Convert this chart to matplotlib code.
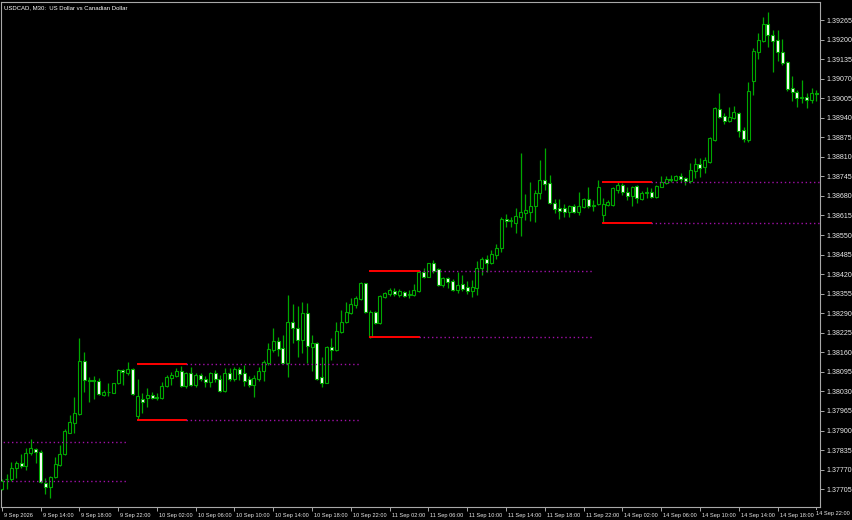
import numpy as np
import matplotlib
matplotlib.use('Agg')
from matplotlib import pyplot as plt
from matplotlib import transforms

plt.rcParams['font.family'] = ['Liberation Sans', 'DejaVu Sans']

title = 'USDCAD, M30:  US Dollar vs Canadian Dollar'

# M30 bars, 9 Sep 10:00 -> 14 Sep 22:00 (weekend skipped)
opens = [1.37706, 1.37738, 1.37738, 1.37774, 1.37793, 1.37782, 1.37825, 1.37839, 1.37830, 1.37727,
         1.37713, 1.37747, 1.37785, 1.37822, 1.37893, 1.37926, 1.37955, 1.38132, 1.38068, 1.38068,
         1.38066, 1.38018, 1.38028, 1.38026, 1.38057, 1.38101, 1.38090, 1.38104, 1.37948, 1.38004,
         1.38009, 1.38017, 1.38011, 1.38009, 1.38048, 1.38076, 1.38081, 1.38098, 1.38048, 1.38090,
         1.38051, 1.38085, 1.38070, 1.38061, 1.38090, 1.38070, 1.38032, 1.38092, 1.38070, 1.38104,
         1.38090, 1.38070, 1.38051, 1.38070, 1.38098, 1.38125, 1.38168, 1.38198, 1.38173, 1.38125,
         1.38262, 1.38242, 1.38201, 1.38292, 1.38179, 1.38190, 1.38077, 1.38059, 1.38179, 1.38168,
         1.38229, 1.38261, 1.38292, 1.38317, 1.38336, 1.38390, 1.38212, 1.38295, 1.38257, 1.38343,
         1.38353, 1.38365, 1.38351, 1.38362, 1.38351, 1.38351, 1.38365, 1.38428, 1.38411, 1.38456,
         1.38436, 1.38384, 1.38406, 1.38398, 1.38367, 1.38387, 1.38376, 1.38365, 1.38373, 1.38439,
         1.38469, 1.38456, 1.38484, 1.38506, 1.38602, 1.38597, 1.38591, 1.38609, 1.38622, 1.38628,
         1.38647, 1.38689, 1.38733, 1.38724, 1.38656, 1.38639, 1.38639, 1.38628, 1.38647, 1.38628,
         1.38644, 1.38669, 1.38647, 1.38652, 1.38617, 1.38649, 1.38650, 1.38700, 1.38716, 1.38694,
         1.38680, 1.38713, 1.38670, 1.38689, 1.38694, 1.38676, 1.38711, 1.38724, 1.38735, 1.38733,
         1.38746, 1.38739, 1.38731, 1.38764, 1.38786, 1.38775, 1.38794, 1.38866, 1.38968, 1.38946,
         1.38929, 1.38938, 1.38957, 1.38899, 1.38866, 1.39062, 1.39160, 1.39196, 1.39252, 1.39215,
         1.39198, 1.39160, 1.39126, 1.39038, 1.39027, 1.39005, 1.39010, 1.38999, 1.39021]
highs = [1.37739, 1.37755, 1.37796, 1.37799, 1.37822, 1.37842, 1.37872, 1.37842, 1.37835, 1.37742,
         1.37749, 1.37813, 1.37852, 1.37904, 1.37952, 1.38012, 1.38207, 1.38162, 1.38079, 1.38081,
         1.38074, 1.38035, 1.38057, 1.38059, 1.38105, 1.38104, 1.38127, 1.38108, 1.38071, 1.38024,
         1.38042, 1.38027, 1.38024, 1.38062, 1.38085, 1.38096, 1.38107, 1.38115, 1.38096, 1.38110,
         1.38091, 1.38092, 1.38081, 1.38096, 1.38101, 1.38085, 1.38107, 1.38107, 1.38112, 1.38112,
         1.38118, 1.38081, 1.38085, 1.38110, 1.38134, 1.38190, 1.38240, 1.38212, 1.38218, 1.38351,
         1.38321, 1.38314, 1.38328, 1.38323, 1.38218, 1.38195, 1.38145, 1.38181, 1.38208, 1.38261,
         1.38302, 1.38328, 1.38340, 1.38346, 1.38395, 1.38392, 1.38300, 1.38298, 1.38351, 1.38362,
         1.38375, 1.38373, 1.38370, 1.38365, 1.38367, 1.38386, 1.38428, 1.38439, 1.38458, 1.38467,
         1.38439, 1.38409, 1.38409, 1.38403, 1.38428, 1.38417, 1.38398, 1.38400, 1.38465, 1.38476,
         1.38484, 1.38500, 1.38520, 1.38609, 1.38620, 1.38611, 1.38639, 1.38822, 1.38686, 1.38727,
         1.38700, 1.38800, 1.38838, 1.38750, 1.38669, 1.38669, 1.38653, 1.38650, 1.38653, 1.38694,
         1.38672, 1.38709, 1.38666, 1.38733, 1.38672, 1.38666, 1.38711, 1.38726, 1.38722, 1.38711,
         1.38713, 1.38716, 1.38697, 1.38711, 1.38705, 1.38716, 1.38746, 1.38746, 1.38750, 1.38750,
         1.38755, 1.38744, 1.38789, 1.38805, 1.38805, 1.38809, 1.38877, 1.38975, 1.39021, 1.38957,
         1.38977, 1.38979, 1.38960, 1.38910, 1.39060, 1.39171, 1.39221, 1.39276, 1.39293, 1.39232,
         1.39232, 1.39201, 1.39129, 1.39079, 1.39032, 1.39066, 1.39021, 1.39038, 1.39032]
lows = [1.37702, 1.37705, 1.37733, 1.37742, 1.37774, 1.37769, 1.37819, 1.37792, 1.37726, 1.37689,
        1.37675, 1.37741, 1.37782, 1.37819, 1.37891, 1.37891, 1.37952, 1.38029, 1.37996, 1.38004,
        1.38018, 1.38016, 1.38016, 1.38024, 1.38055, 1.38051, 1.38085, 1.38018, 1.37935, 1.37959,
        1.37979, 1.38005, 1.38001, 1.38004, 1.38046, 1.38051, 1.38077, 1.38046, 1.38040, 1.38048,
        1.38046, 1.38066, 1.38046, 1.38046, 1.38062, 1.38029, 1.38029, 1.38066, 1.38066, 1.38068,
        1.38048, 1.38046, 1.38012, 1.38066, 1.38066, 1.38118, 1.38162, 1.38148, 1.38124, 1.38077,
        1.38192, 1.38145, 1.38159, 1.38124, 1.38099, 1.38068, 1.38046, 1.38057, 1.38134, 1.38163,
        1.38225, 1.38258, 1.38289, 1.38309, 1.38334, 1.38292, 1.38209, 1.38254, 1.38254, 1.38340,
        1.38347, 1.38347, 1.38345, 1.38345, 1.38340, 1.38347, 1.38362, 1.38406, 1.38409, 1.38425,
        1.38381, 1.38378, 1.38373, 1.38365, 1.38356, 1.38365, 1.38354, 1.38345, 1.38351, 1.38417,
        1.38428, 1.38454, 1.38469, 1.38495, 1.38576, 1.38576, 1.38556, 1.38547, 1.38600, 1.38598,
        1.38594, 1.38669, 1.38700, 1.38653, 1.38624, 1.38602, 1.38609, 1.38609, 1.38624, 1.38617,
        1.38641, 1.38639, 1.38631, 1.38650, 1.38591, 1.38647, 1.38647, 1.38689, 1.38683, 1.38666,
        1.38647, 1.38658, 1.38666, 1.38672, 1.38672, 1.38672, 1.38709, 1.38720, 1.38727, 1.38731,
        1.38727, 1.38716, 1.38722, 1.38741, 1.38744, 1.38757, 1.38789, 1.38864, 1.38938, 1.38919,
        1.38927, 1.38935, 1.38877, 1.38860, 1.38860, 1.39016, 1.39134, 1.39193, 1.39174, 1.39093,
        1.39129, 1.39115, 1.39030, 1.38997, 1.38977, 1.38989, 1.38971, 1.38988, 1.38997]
closes = [1.37732, 1.37740, 1.37776, 1.37793, 1.37782, 1.37826, 1.37842, 1.37830, 1.37729, 1.37713,
          1.37747, 1.37788, 1.37822, 1.37898, 1.37927, 1.37957, 1.38132, 1.38068, 1.38065, 1.38066,
          1.38021, 1.38028, 1.38029, 1.38057, 1.38101, 1.38096, 1.38104, 1.38021, 1.38016, 1.37996,
          1.38017, 1.38009, 1.38008, 1.38049, 1.38079, 1.38085, 1.38098, 1.38048, 1.38090, 1.38051,
          1.38085, 1.38070, 1.38061, 1.38090, 1.38070, 1.38032, 1.38090, 1.38070, 1.38104, 1.38087,
          1.38066, 1.38051, 1.38074, 1.38099, 1.38129, 1.38170, 1.38198, 1.38170, 1.38125, 1.38262,
          1.38240, 1.38201, 1.38292, 1.38181, 1.38190, 1.38070, 1.38059, 1.38179, 1.38168, 1.38231,
          1.38262, 1.38293, 1.38320, 1.38340, 1.38390, 1.38295, 1.38295, 1.38257, 1.38347, 1.38356,
          1.38367, 1.38353, 1.38364, 1.38348, 1.38354, 1.38367, 1.38426, 1.38411, 1.38456, 1.38431,
          1.38384, 1.38406, 1.38395, 1.38367, 1.38384, 1.38370, 1.38365, 1.38376, 1.38439, 1.38469,
          1.38456, 1.38487, 1.38506, 1.38602, 1.38597, 1.38601, 1.38613, 1.38628, 1.38633, 1.38647,
          1.38691, 1.38733, 1.38719, 1.38656, 1.38636, 1.38631, 1.38628, 1.38647, 1.38628, 1.38647,
          1.38669, 1.38647, 1.38650, 1.38711, 1.38652, 1.38661, 1.38705, 1.38716, 1.38694, 1.38680,
          1.38711, 1.38672, 1.38691, 1.38694, 1.38676, 1.38714, 1.38727, 1.38735, 1.38733, 1.38746,
          1.38735, 1.38731, 1.38766, 1.38786, 1.38774, 1.38800, 1.38872, 1.38971, 1.38943, 1.38930,
          1.38941, 1.38958, 1.38897, 1.38868, 1.39030, 1.39162, 1.39198, 1.39252, 1.39215, 1.39196,
          1.39160, 1.39123, 1.39035, 1.39027, 1.39005, 1.39010, 1.38999, 1.39021, 1.39020]

# session boxes (bar numbers): red = session range, dotted = extension
sess_start = [-22, 28, 76, 124]
sess_end = [-12, 38, 86, 134]
ext_end = [26, 74, 122, 172]
sess_high = [1.37862, 1.38121, 1.38430, 1.38726]
sess_low = [1.37732, 1.37935, 1.38211, 1.38590]

time_labels = ['9 Sep 2026', '9 Sep 14:00', '9 Sep 18:00', '9 Sep 22:00',
               '10 Sep 02:00', '10 Sep 06:00', '10 Sep 10:00', '10 Sep 14:00', '10 Sep 18:00', '10 Sep 22:00',
               '11 Sep 02:00', '11 Sep 06:00', '11 Sep 10:00', '11 Sep 14:00', '11 Sep 18:00', '11 Sep 22:00',
               '14 Sep 02:00', '14 Sep 06:00', '14 Sep 10:00', '14 Sep 14:00', '14 Sep 18:00', '14 Sep 22:00']
price_ticks = [1.37705, 1.37770, 1.37835, 1.37900, 1.37965, 1.38030, 1.38095, 1.38160, 1.38225,
               1.38290, 1.38355, 1.38420, 1.38485, 1.38550, 1.38615, 1.38680, 1.38745, 1.38810,
               1.38875, 1.38940, 1.39005, 1.39070, 1.39135, 1.39200, 1.39265]

green = '#00a800'
frame = '#a8a8a8'

fig = plt.figure(figsize=(8.52, 5.2), dpi=100, facecolor='black')
ax = fig.add_axes([1/852, 13/520, 819/852, 505/520])
ax.set_facecolor('black')

o = np.array(opens)
h = np.array(highs)
l = np.array(lows)
c = np.array(closes)
x = np.arange(len(c))
up = c >= o

#------candles---------------------------------------
ax.vlines(x, l, h, color=green, lw=0.9, zorder=2)
ax.bar(x, c - o, bottom=o, width=0.62, color=np.where(up, 'black', 'white'),
       edgecolor=green, linewidth=0.8, zorder=3)

#------session lines---------------------------------
for k in range(len(sess_start)):
    for lvl in (sess_high[k], sess_low[k]):
        ax.plot([sess_start[k], sess_end[k]], [lvl, lvl], color='#ff0000', lw=1.4, zorder=4)
        ax.plot([sess_end[k], ext_end[k]], [lvl, lvl], color='#a010a8', lw=1.0,
                linestyle=(0, (1, 2)), zorder=4)

ax.set_xlim(-0.15, 168.75)
ax.set_ylim(1.376457, 1.393249)

for s in ax.spines.values():
    s.set_color(frame)
    s.set_linewidth(0.8)

ax.yaxis.tick_right()
ax.set_yticks(price_ticks)
ax.set_yticklabels(['%.5f' % p for p in price_ticks])
ax.tick_params(axis='y', direction='out', length=3, width=0.7, color=frame,
               labelcolor='#e8e8e8', labelsize=5.1, pad=1.5)

ax.set_xticks(list(range(0, len(c), 8)))
ax.set_xticklabels(time_labels[:-1] + [''], ha='left')
ax.tick_params(axis='x', direction='out', length=3, width=0.7, color=frame,
               labelcolor='#e8e8e8', labelsize=4.1, pad=1.5)
shift = transforms.ScaledTranslation(2/100, 0, fig.dpi_scale_trans)
for lab in ax.get_xticklabels():
    lab.set_transform(lab.get_transform() + shift)
# last time label sits flush with the right edge, as in the terminal
fig.text(850/852, 1 - 513/520, time_labels[-1], color='#e8e8e8', fontsize=4.1,
         ha='right', va='center',
         bbox=dict(facecolor='black', edgecolor='none', pad=0.5))

fig.text(4/852, 1 - 8/520, title, color='white', fontsize=4.3, va='center', ha='left')

fig.savefig('out.png', dpi=100, facecolor='black')
